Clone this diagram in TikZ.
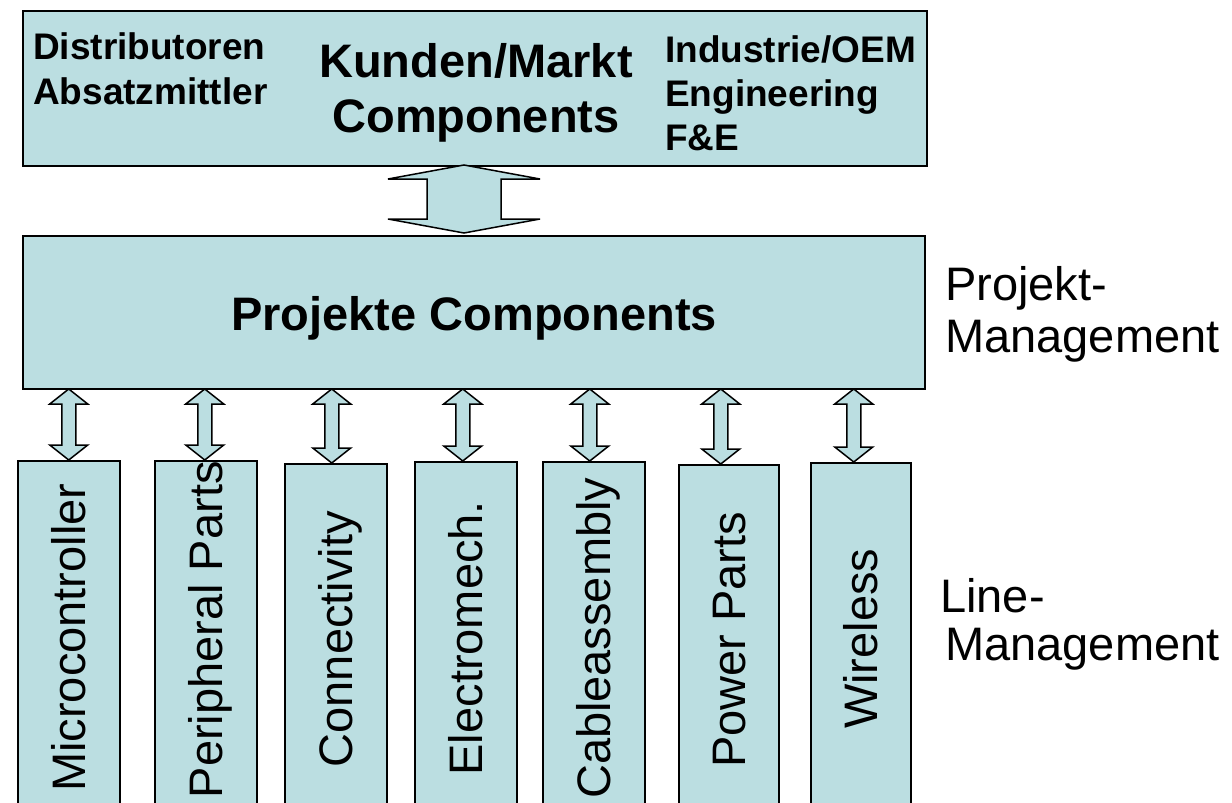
\documentclass[tikz,border=0pt]{standalone}
\usepackage{fontspec}
\setmainfont{Liberation Sans}
\usetikzlibrary{calc}
\definecolor{boxfill}{RGB}{187,222,225}
\tikzset{
 panel/.style={draw=black, line width=2pt, fill=boxfill, inner sep=0pt},
 colbox/.style={draw=black, line width=1.5pt, fill=boxfill, inner sep=0pt},
 arrowshape/.style={draw=black, line width=1.5pt, fill=boxfill, line join=miter},
 smallbold/.style={font=\fontsize{37}{44}\selectfont\bfseries, inner sep=0pt},
 bigbold/.style={font=\fontsize{47}{55}\selectfont\bfseries, inner sep=0pt},
 plain/.style={font=\fontsize{47}{55}\selectfont, inner sep=0pt},
 vlabel/.style={font=\fontsize{47}{55}\selectfont, rotate=90, inner sep=0pt, text height=34pt, text depth=0pt},
}
\newcommand\mydblarrow[5]{%
 \draw[arrowshape] (#1) -- ($(#1)+(#4,-#5)$) -- ($(#1)+(#3,-#5)$) -- ($(#2)+(#3,#5)$) -- ($(#2)+(#4,#5)$) -- (#2) -- ($(#2)+(-#4,#5)$) -- ($(#2)+(-#3,#5)$) -- ($(#1)+(-#3,-#5)$) -- ($(#1)+(-#4,-#5)$) -- cycle;}
\begin{document}
\begin{tikzpicture}[x=1pt,y=1pt]
\useasboundingbox (0,0) rectangle (1232,-803);
\clip (0,0) rectangle (1232,-803);
% panels
\node[panel, minimum width=904pt, minimum height=155pt, anchor=north west] (top) at (22,-10) {};
\node[panel, minimum width=902pt, minimum height=153pt, anchor=north west] (proj) at (22,-235) {};
% bottom boxes
\node[colbox, minimum width=102pt, minimum height=354pt, anchor=north west] (b1) at (17,-460) {};
\node[colbox, minimum width=102pt, minimum height=354pt, anchor=north west] (b2) at (154,-460) {};
\node[colbox, minimum width=102pt, minimum height=351pt, anchor=north west] (b3) at (284,-463) {};
\node[colbox, minimum width=102pt, minimum height=353pt, anchor=north west] (b4) at (414,-461) {};
\node[colbox, minimum width=102pt, minimum height=353pt, anchor=north west] (b5) at (542,-461) {};
\node[colbox, minimum width=100pt, minimum height=350pt, anchor=north west] (b6) at (678,-464) {};
\node[colbox, minimum width=100pt, minimum height=352pt, anchor=north west] (b7) at (810,-462) {};
% labels in bottom boxes
\node[vlabel] (t1) at (b1.center) {Microcontroller};
\node[vlabel] (t2) at ([yshift=8pt]b2.center) {Peripheral Parts};
\node[vlabel] (t3) at (b3.center) {Connectivity};
\node[vlabel] (t4) at (b4.center) {Electromech.};
\node[vlabel] (t5) at (b5.center) {Cableassembly};
\node[vlabel] (t6) at (b6.center) {Power Parts};
\node[vlabel] (t7) at (b7.center) {Wireless};
% big arrow
\coordinate (bigb) at ([xshift=-10pt,yshift=2pt]proj.north);
\coordinate (bigt) at ([yshift=2pt]top.south -| bigb);
\mydblarrow{bigt}{bigb}{37}{76}{14}
% small arrows
\coordinate (a1b) at (b1.north);            \coordinate (a1t) at ([yshift=1pt]proj.south -| a1b);
\coordinate (a2b) at ([xshift=-1pt]b2.north); \coordinate (a2t) at ([yshift=1pt]proj.south -| a2b);
\coordinate (a3b) at ([xshift=-4pt]b3.north); \coordinate (a3t) at ([yshift=1pt]proj.south -| a3b);
\coordinate (a4b) at ([xshift=-3pt]b4.north); \coordinate (a4t) at ([yshift=1pt]proj.south -| a4b);
\coordinate (a5b) at ([xshift=-4pt]b5.north); \coordinate (a5t) at ([yshift=1pt]proj.south -| a5b);
\coordinate (a6b) at ([xshift=-8pt]b6.north); \coordinate (a6t) at ([yshift=1pt]proj.south -| a6b);
\coordinate (a7b) at ([xshift=-7pt]b7.north); \coordinate (a7t) at ([yshift=1pt]proj.south -| a7b);
\foreach \i in {1,...,7}{\mydblarrow{a\i t}{a\i b}{7}{19}{15}}
% texts
\node[smallbold, anchor=base west] (d1) at (33,-59) {Distributoren};
\node[smallbold, anchor=base west] (d2) at (33,-104) {Absatzmittler};
\node[bigbold, anchor=base] (k1) at (476,-77) {Kunden/Markt};
\node[bigbold, anchor=base] (k2) at (476,-132) {Components};
\node[smallbold, anchor=base west] (i1) at (665,-62) {Industrie/OEM};
\node[smallbold, anchor=base west] (i2) at (665,-106) {Engineering};
\node[smallbold, anchor=base west] (i3) at (665,-150) {F\&E};
\node[bigbold, anchor=base] (pc) at (474,-330) {Projekte Components};
\node[plain, anchor=base west] (pm1) at (945,-300) {Projekt-};
\node[plain, anchor=base west] (pm2) at (945,-352) {Management};
\node[plain, anchor=base west] (lm1) at (940,-612) {Line-};
\node[plain, anchor=base west] (lm2) at (945,-660) {Management};
\end{tikzpicture}
\end{document}
